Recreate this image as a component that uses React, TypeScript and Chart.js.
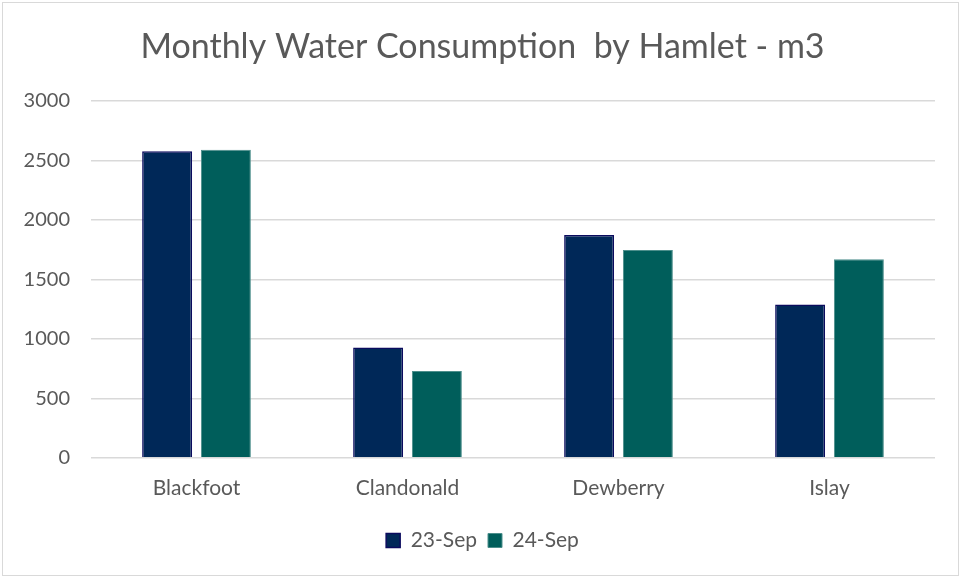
import React, { useEffect, useRef } from "react";
import { Chart, registerables } from "chart.js";

Chart.register(...registerables);

const categories = ["Blackfoot", "Clandonald", "Dewberry", "Islay"];
const seriesNames = ["23-Sep", "24-Sep"];
const sep23 = [2577, 927, 1873, 1288];
const sep24 = [2589, 730, 1747, 1668];
const yTicks = { min: 0, max: 3000, step: 500 };
const titleText = "Monthly Water Consumption  by Hamlet - m3";

const FONT = "Lato, 'Open Sans', sans-serif";
const TEXT = "#595959";

export default function App() {
  const ref = useRef<HTMLCanvasElement | null>(null);

  useEffect(() => {
    if (!ref.current) return;
    const chart = new Chart(ref.current, {
      type: "bar",
      data: {
        labels: categories,
        datasets: [
          {
            label: seriesNames[0],
            data: sep23,
            backgroundColor: "#002858",
            borderColor: "#0b0b5e",
            borderWidth: 1.5,
            categoryPercentage: 0.557,
            barPercentage: 0.85,
          },
          {
            label: seriesNames[1],
            data: sep24,
            backgroundColor: "#005e5b",
            borderColor: "#4d8f8c",
            borderWidth: 1,
            categoryPercentage: 0.557,
            barPercentage: 0.85,
          },
        ],
      },
      options: {
        responsive: false,
        animation: false,
        layout: { padding: { left: 4, right: 0, top: 0, bottom: 17 } },
        plugins: {
          title: {
            display: true,
            text: titleText,
            color: TEXT,
            font: { family: FONT, size: 34, weight: "normal" },
            padding: { top: 27, bottom: 33 },
          },
          legend: {
            display: true,
            position: "bottom",
            labels: {
              color: TEXT,
              font: { family: FONT, size: 21 },
              boxWidth: 14,
              boxHeight: 14,
              padding: 11,
            },
          },
          tooltip: { enabled: false },
        },
        scales: {
          x: {
            grid: { display: false, drawTicks: false },
            border: { display: false },
            ticks: {
              color: TEXT,
              font: { family: FONT, size: 21 },
              padding: 18,
            },
          },
          y: {
            min: yTicks.min,
            max: yTicks.max,
            ticks: {
              stepSize: yTicks.step,
              color: TEXT,
              font: { family: FONT, size: 20 },
              padding: 21,
              callback: (v: any) => String(v),
            },
            grid: { color: "#d9d9d9", lineWidth: 1.5, drawTicks: false },
            border: { display: false },
            afterFit: (scale: any) => {
              scale.width = 87;
            },
          },
          yRightSpacer: {
            type: "linear",
            position: "right",
            display: true,
            min: yTicks.min,
            max: yTicks.max,
            ticks: { display: false },
            grid: { display: false, drawTicks: false },
            border: { display: false },
            afterFit: (scale: any) => {
              scale.width = 26;
            },
          },
        },
      },
    });
    return () => chart.destroy();
  }, []);

  return (
    <div style={{ position: "fixed", left: 0, top: 0, width: 961, height: 578, background: "#fff" }}>
      <canvas ref={ref} width={961} height={578} style={{ position: "absolute", left: 0, top: 0 }} />
      <div
        style={{
          position: "absolute",
          left: 2,
          top: 2,
          right: 2,
          bottom: 2,
          border: "1.5px solid #d9d9d9",
          pointerEvents: "none",
        }}
      />
    </div>
  );
}
